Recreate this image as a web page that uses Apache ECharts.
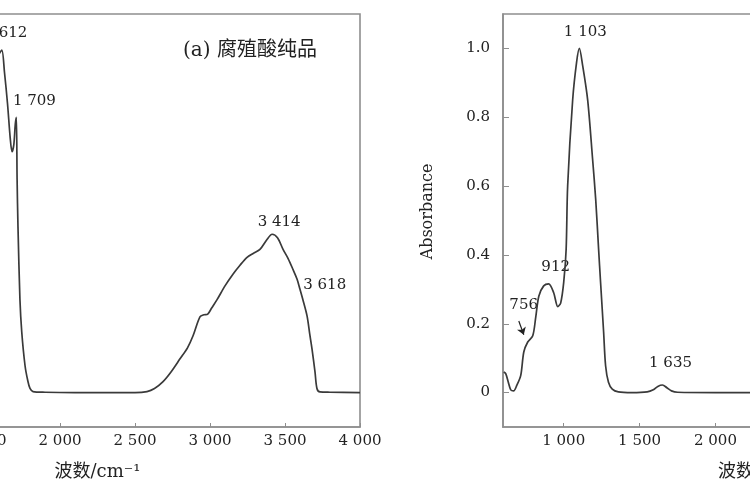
<!DOCTYPE html>
<html><head><meta charset="utf-8">
<script src="https://cdn.jsdelivr.net/npm/echarts@6/dist/echarts.min.js"></script>
<style>html,body{margin:0;padding:0;background:#fff}#c{width:750px;height:500px}</style>
</head><body><div id="c"></div>
<script>
// Panel (a): humic acid spectrum [wavenumber, absorbance]
const specA = [[1550,0.93],[1590,0.98],[1612,0.995],[1630,0.93],[1650,0.84],[1668,0.74],[1680,0.70],[1692,0.72],[1702,0.78],[1709,0.80],[1714,0.62],[1720,0.48],[1733,0.27],[1745,0.176],[1767,0.078],[1785,0.035],[1800,0.012],[1820,0.003],[1900,0.001],[2100,0.0],[2300,0.0],[2500,0.0],[2580,0.003],[2630,0.012],[2687,0.032],[2740,0.06],[2800,0.098],[2850,0.13],[2887,0.165],[2933,0.22],[2960,0.226],[2985,0.228],[3010,0.245],[3047,0.27],[3100,0.31],[3153,0.344],[3200,0.37],[3247,0.393],[3290,0.405],[3333,0.416],[3380,0.445],[3414,0.46],[3450,0.45],[3487,0.416],[3520,0.39],[3553,0.358],[3580,0.33],[3600,0.30],[3618,0.272],[3647,0.223],[3665,0.17],[3680,0.127],[3700,0.06],[3713,0.012],[3733,0.002],[3800,0.001],[4000,0.0]];
// Panel (b) spectrum [wavenumber, absorbance]
const specB = [[605,0.06],[618,0.055],[635,0.03],[651,0.008],[670,0.005],[690,0.02],[717,0.05],[737,0.118],[763,0.147],[796,0.165],[816,0.22],[836,0.28],[868,0.31],[901,0.316],[934,0.29],[961,0.25],[980,0.26],[1000,0.32],[1016,0.416],[1026,0.6],[1059,0.85],[1085,0.96],[1103,1.0],[1125,0.95],[1158,0.85],[1190,0.68],[1211,0.56],[1230,0.416],[1243,0.32],[1263,0.176],[1276,0.078],[1295,0.03],[1320,0.01],[1360,0.002],[1450,0.0],[1550,0.002],[1590,0.008],[1620,0.018],[1651,0.022],[1680,0.014],[1710,0.005],[1750,0.001],[2000,0.0],[2500,0.0],[3000,0.0],[3500,0.0],[4000,0.0]];

// peak labels
const peakTextA = ['1 612','1 709','3 414','3 618'];
const peakWA = [1612,1709,3414,3618];
const peakVA = [0.995,0.80,0.46,0.275];
const peakTextB = ['1 103','912','756','1 635'];
const peakWB = [1103,901,756,1651];
const peakVB = [1.0,0.316,0.14,0.022];
const arrowB = [[704,0.208],[737,0.168]];

const xTicks = [500,1000,1500,2000,2500,3000,3500,4000];
const yTicks = [0,0.2,0.4,0.6,0.8,1.0];

const labelOffsetsA = [[4,-10],[18,-9],[7,-5],[22,-5]];
const labelOffsetsB = [[6,-9],[7,-9],[-3,-32],[8,-14]];

const serif = "'DejaVu Serif','Noto Sans CJK SC',serif";
const axisCol = '#8e8e8e';
const textCol = '#222';

function fmtNum(v){
  if (v >= 1000) { const t = String(Math.round(v)); return t.slice(0,t.length-3)+' '+t.slice(-3); }
  if (v >= 100) return String(Math.round(v));
  if (v === 0) return '0';
  return v.toFixed(1);
}

function xAxis(idx, min){
  return {
    gridIndex: idx, type:'value', min:min, max:4000,
    name:'波数/cm⁻¹', nameLocation:'middle', nameGap:36,
    nameTextStyle:{fontFamily:serif, fontSize:18, color:textCol},
    axisLine:{show:true, onZero:false, lineStyle:{color:axisCol, width:1.6}},
    axisTick:{show:true, inside:true, length:4, lineStyle:{color:axisCol}, customValues: xTicks},
    axisLabel:{fontFamily:serif, fontSize:15, color:textCol, margin:7, customValues: xTicks, formatter: fmtNum},
    splitLine:{show:false}
  };
}
function yAxis(idx, showLabels){
  return {
    gridIndex: idx, type:'value', min:-0.1, max:1.1,
    name: showLabels ? 'Absorbance' : '', nameLocation:'middle', nameGap:67, nameRotate:90,
    nameTextStyle:{fontFamily:serif, fontSize:16, color:textCol, padding:[0,0,0,18]},
    axisLine:{show:true, lineStyle:{color:axisCol, width:1.6}},
    axisTick:{show:true, inside:true, length:6, lineStyle:{color:axisCol}, customValues: yTicks},
    axisLabel:{show:showLabels, fontFamily:serif, fontSize:15, color:textCol, margin:13, customValues: yTicks, formatter: fmtNum},
    splitLine:{show:false}
  };
}
function labelSeries(idx, ws, vs, texts, offs){
  return {
    type:'scatter', xAxisIndex:idx, yAxisIndex:idx, symbolSize:0, silent:true,
    itemStyle:{opacity:1},
    data: ws.map((w,i)=>({value:[w,vs[i]], label:{offset:offs[i]}, name:texts[i]})),
    label:{show:true, position:'top', distance:0, formatter: p=>p.name,
      fontFamily:serif, fontSize:15, color:textCol}
  };
}

const chart = echarts.init(document.getElementById('c'), null, {renderer:'canvas'});
chart.setOption({
  animation:false,
  backgroundColor:'#fff',
  title:{text:'(a) 腐殖酸纯品', left:178, top:36,
    textStyle:{fontFamily:serif, fontSize:20, fontWeight:'normal', color:textCol}},
  grid:[
    {left:-165, right:390, top:14, bottom:73, show:true, borderColor:axisCol, borderWidth:1.6, containLabel:false, outerBoundsMode:'none'},
    {left:503, right:-269, top:14, bottom:73, show:true, borderColor:axisCol, borderWidth:1.6, containLabel:false, outerBoundsMode:'none'}
  ],
  xAxis:[xAxis(0,500), xAxis(1,600)],
  yAxis:[yAxis(0,false), yAxis(1,true)],
  series:[
    {type:'line', xAxisIndex:0, yAxisIndex:0, data:specA, showSymbol:false, smooth:0.3,
      lineStyle:{color:'#3a3a3a', width:1.7}},
    {type:'line', xAxisIndex:1, yAxisIndex:1, data:specB, showSymbol:false, smooth:0.3,
      lineStyle:{color:'#3a3a3a', width:1.7},
      markLine:{silent:true, symbol:['none','arrow'], symbolSize:7, label:{show:false},
        lineStyle:{color:'#222', width:1.2, type:'solid'},
        data:[[{coord:arrowB[0]},{coord:arrowB[1]}]]}},
    labelSeries(0, peakWA, peakVA, peakTextA, labelOffsetsA),
    labelSeries(1, peakWB, peakVB, peakTextB, labelOffsetsB)
  ]
});
</script></body></html>
